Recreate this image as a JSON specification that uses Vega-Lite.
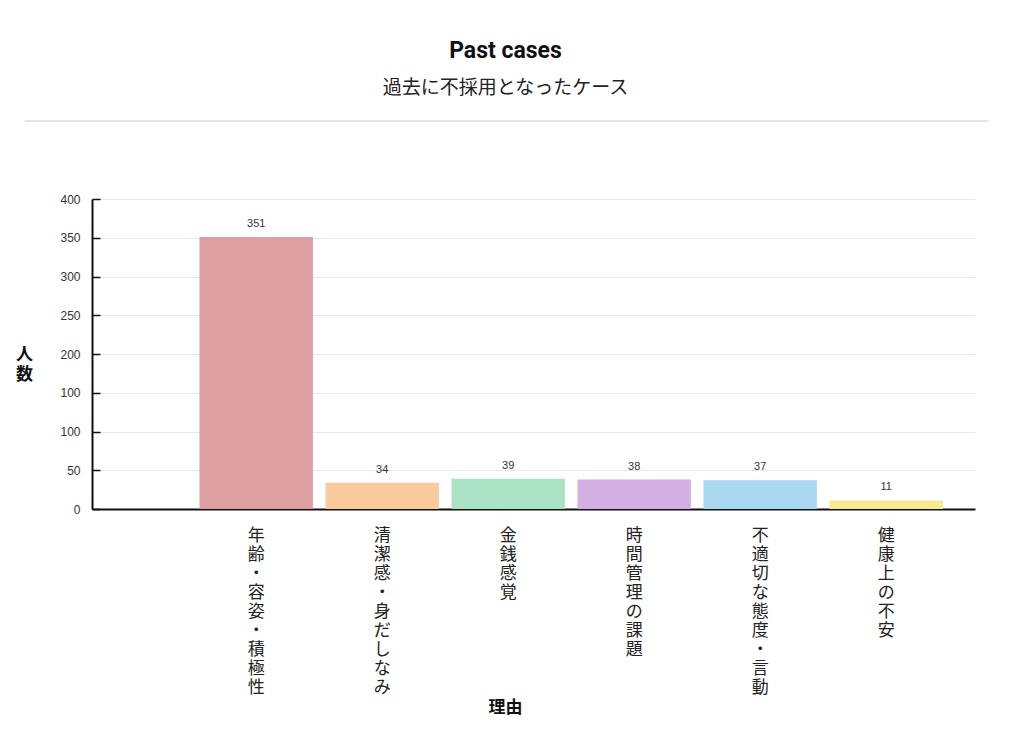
{
  "$schema": "https://vega.github.io/schema/vega-lite/v6.json",
  "width": 883,
  "height": 310,
  "autosize": {"type": "none"},
  "padding": {"left": 92, "top": 199, "right": 49, "bottom": 222},
  "background": "white",
  "config": {
    "view": {"stroke": null},
    "font": "Noto Sans CJK JP"
  },
  "title": {
    "text": "Past cases",
    "subtitle": "過去に不採用となったケース",
    "font": "Roboto",
    "fontSize": 23,
    "fontWeight": "bold",
    "color": "#111",
    "subtitleFont": "Noto Sans CJK JP",
    "subtitleFontSize": 19,
    "subtitleColor": "#222",
    "subtitlePadding": 16,
    "anchor": "middle",
    "dx": -28,
    "offset": 22
  },
  "data": {
    "values": [
      {"reason": "年齢・容姿・積極性", "count": 351},
      {"reason": "清潔感・身だしなみ", "count": 34},
      {"reason": "金銭感覚", "count": 39},
      {"reason": "時間管理の課題", "count": 38},
      {"reason": "不適切な態度・言動", "count": 37},
      {"reason": "健康上の不安", "count": 11}
    ]
  },
  "resolve": {"scale": {"x": "independent"}},
  "layer": [
    {
      "mark": {"type": "bar"},
      "encoding": {
        "x": {
          "field": "reason",
          "type": "nominal",
          "sort": null,
          "scale": {"type": "band", "paddingInner": 0.1, "paddingOuter": 0.554, "align": 0.77},
          "axis": {
            "title": "理由",
            "titleFontSize": 17,
            "titleFontWeight": "bold",
            "titleColor": "#111",
            "titleX": 413,
            "titleY": 198,
            "titleBaseline": "middle",
            "titleAlign": "center",
            "labelAngle": 0,
            "labelExpr": "split(datum.label, '')",
            "labelFontSize": 17,
            "labelLineHeight": 19,
            "labelColor": "#222",
            "labelBaseline": "top",
            "labelPadding": 18,
            "labelOverlap": false,
            "ticks": false,
            "domainColor": "#111",
            "domainWidth": 2
          }
        },
        "y": {
          "field": "count",
          "type": "quantitative",
          "scale": {"domain": [0, 400], "nice": false},
          "axis": {
            "title": ["人", "数"],
            "titleAngle": 0,
            "titleFontSize": 17,
            "titleFontWeight": "bold",
            "titleColor": "#111",
            "titleLineHeight": 20,
            "titleX": -68,
            "titleY": 155,
            "titleAlign": "center",
            "titleBaseline": "middle",
            "values": [0, 50, 100, 150, 200, 250, 300, 350, 400],
            "tickCount": 9,
            "labelExpr": "datum.value == 150 ? '100' : datum.label",
            "labelOverlap": false,
            "labelFont": "Liberation Sans",
            "labelFontSize": 12,
            "labelColor": "#333",
            "labelPadding": 20,
            "tickSize": -8,
            "tickColor": "#111",
            "tickWidth": 1.5,
            "domainColor": "#111",
            "domainWidth": 2,
            "grid": true,
            "gridColor": "#e8e8e8",
            "gridWidth": 1
          }
        },
        "color": {
          "field": "reason",
          "type": "nominal",
          "sort": null,
          "scale": {
            "domain": ["年齢・容姿・積極性", "清潔感・身だしなみ", "金銭感覚", "時間管理の課題", "不適切な態度・言動", "健康上の不安"],
            "range": ["#dc9ea0", "#f9ca9b", "#abe1c4", "#d3afe4", "#a9d8f0", "#f5ea8e"]
          },
          "legend": null
        }
      }
    },
    {
      "mark": {"type": "text", "dy": -13, "fontSize": 11, "font": "Liberation Sans", "color": "#333", "baseline": "middle"},
      "encoding": {
        "x": {
          "field": "reason",
          "type": "nominal",
          "sort": null,
          "scale": {"type": "band", "paddingInner": 0.1, "paddingOuter": 0.554, "align": 0.77},
          "axis": null
        },
        "y": {"field": "count", "type": "quantitative"},
        "text": {"field": "count", "type": "quantitative"}
      }
    },
    {
      "mark": {"type": "rule", "color": "#e6e6e6", "strokeWidth": 1.5},
      "encoding": {
        "x": {"datum": -0.076, "type": "quantitative", "scale": {"domain": [0, 1], "nice": false, "zero": false}, "axis": null},
        "x2": {"datum": 1.015},
        "y": {"datum": 500.6, "type": "quantitative"}
      }
    }
  ]
}
